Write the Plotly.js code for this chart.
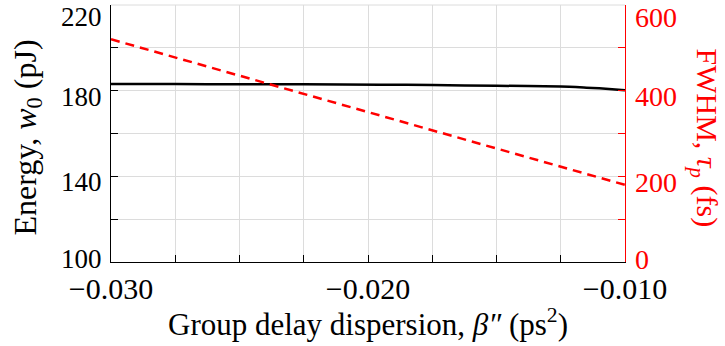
<!DOCTYPE html>
<html><head><meta charset="utf-8">
<script src="https://cdn.plot.ly/plotly-3.0.1.min.js"></script>
<style>html,body{margin:0;padding:0;background:#fff}#chart{width:725px;height:346px}</style>
</head><body><div id="chart"></div>
<script>
// Data
const gdd = [-0.030, -0.0275, -0.025, -0.0225, -0.0195, -0.0175, -0.015, -0.0125, -0.0115, -0.011, -0.0105, -0.010];
const energy = [183.1, 183.1, 183.0, 183.0, 182.8, 182.6, 182.3, 181.9, 181.4, 181.1, 180.7, 180.2];
const gddFwhm = [-0.030, -0.010];
const fwhm = [520, 180];
const energyTicks = [100, 140, 180, 220];
const fwhmTicks = [0, 200, 400, 600];

const font = '"Liberation Serif", "Times New Roman", serif';
const grid = '#dcdcdc';
const red = '#ff0000';

const traces = [
  {x: gdd, y: energy, type: 'scatter', mode: 'lines', line: {color: '#000', width: 2.5, shape: 'spline', smoothing: 0.6}, yaxis: 'y', showlegend: false},
  {x: gddFwhm, y: fwhm, type: 'scatter', mode: 'lines', line: {color: red, width: 2.5, dash: '9px,6px'}, yaxis: 'y2', showlegend: false}
];

function labelShift(v, arr) {
  const mx = Math.max(...arr), mn = Math.min(...arr);
  return v === mx ? -12 : (v === mn ? 3 : -6);
}

const annotations = [];
energyTicks.forEach(v => annotations.push({
  text: String(v), xref: 'paper', yref: 'y', x: 0, y: v, xanchor: 'right', yanchor: 'middle',
  xshift: -7, yshift: labelShift(v, energyTicks), showarrow: false,
  font: {family: font, size: 27, color: '#000'}
}));
fwhmTicks.forEach(v => annotations.push({
  text: String(v), xref: 'paper', yref: 'y2', x: 1, y: v, xanchor: 'left', yanchor: 'middle',
  xshift: 8, yshift: labelShift(v, fwhmTicks), showarrow: false,
  font: {family: font, size: 28, color: red}
}));
annotations.push(
  {text: 'Energy, <i>w</i><sub>0</sub> (pJ)', xref: 'paper', yref: 'paper', x: 0, y: 0.5,
   xshift: -84, yshift: -4, textangle: -90, showarrow: false, xanchor: 'center', yanchor: 'middle',
   font: {family: font, size: 32, color: '#000'}},
  {text: 'FWHM, <i>τ<sub>p</sub></i> (fs)', xref: 'paper', yref: 'paper', x: 1, y: 0.5,
   xshift: 80, yshift: -4, textangle: 90, showarrow: false, xanchor: 'center', yanchor: 'middle',
   font: {family: font, size: 30, color: red}},
  {text: 'Group delay dispersion, <i>β″</i> (ps<sup>2</sup>)', xref: 'paper', yref: 'paper', x: 0.5, y: 0,
   yshift: -60, showarrow: false, xanchor: 'center', yanchor: 'middle',
   font: {family: font, size: 31, color: '#000'}}
);

const layout = {
  width: 725, height: 346,
  margin: {l: 111, r: 100, t: 5, b: 84},
  paper_bgcolor: '#fff', plot_bgcolor: '#fff',
  font: {family: font, size: 26, color: '#000'},
  xaxis: {
    range: [-0.030, -0.010], dtick: 0.01, tick0: -0.030, tickformat: '.3f',
    ticks: 'inside', ticklen: 7, tickcolor: '#000', showline: true, linecolor: '#000', linewidth: 1.2,
    showgrid: true, gridcolor: grid, zeroline: false, ticklabeloverflow: 'allow',
    minor: {dtick: 0.0025, ticks: 'inside', ticklen: 7, tickcolor: '#000', showgrid: true, gridcolor: grid},
    tickfont: {family: font, size: 30, color: '#000'}
  },
  yaxis: {
    range: [100, 220], dtick: 40, tick0: 100, showticklabels: false,
    ticks: 'inside', ticklen: 7, tickcolor: '#000', showline: true, linecolor: '#000', linewidth: 1.2,
    showgrid: true, gridcolor: grid, zeroline: false,
    minor: {dtick: 20, ticks: 'inside', ticklen: 7, tickcolor: '#000', showgrid: true, gridcolor: grid}
  },
  yaxis2: {
    overlaying: 'y', side: 'right', range: [0, 600], dtick: 200, tick0: 0, showticklabels: false,
    ticks: 'inside', ticklen: 7, tickcolor: red, showline: true, linecolor: red, linewidth: 1.2,
    showgrid: false, zeroline: false,
    minor: {dtick: 100, ticks: 'inside', ticklen: 7, tickcolor: red, showgrid: false}
  },
  shapes: [
    {type: 'line', xref: 'paper', yref: 'paper', x0: 0, x1: 1, y0: 1, y1: 1, line: {color: grid, width: 1}}
  ],
  annotations: annotations
};
Plotly.newPlot('chart', traces, layout, {displayModeBar: false, staticPlot: true});
</script></body></html>
